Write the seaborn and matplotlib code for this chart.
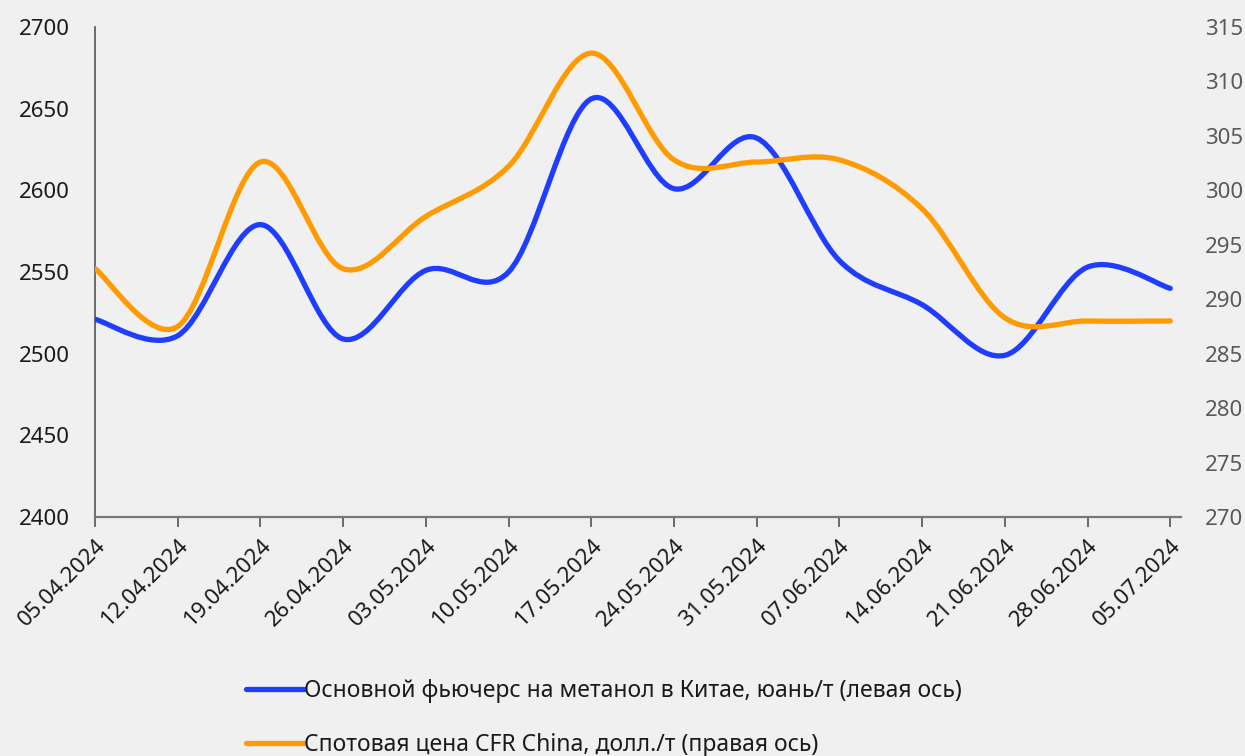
import numpy as np
import pandas as pd
import matplotlib
matplotlib.use('Agg')
import matplotlib.pyplot as plt
import seaborn as sns
from matplotlib.path import Path
from matplotlib.patches import PathPatch
from matplotlib.lines import Line2D

# data
dates = ['05.04.2024', '12.04.2024', '19.04.2024', '26.04.2024', '03.05.2024',
         '10.05.2024', '17.05.2024', '24.05.2024', '31.05.2024', '07.06.2024',
         '14.06.2024', '21.06.2024', '28.06.2024', '05.07.2024']
futures_cny = [2521, 2511, 2579, 2509, 2551, 2550, 2656, 2601, 2632, 2557,
               2530, 2499, 2553, 2540]
spot_usd = [292.8, 287.5, 302.6, 292.8, 297.6, 302.2, 312.6, 302.8, 302.6, 302.8,
            298.3, 288.3, 288.0, 288.0]

label_fut = 'Основной фьючерс на метанол в Китае, юань/т (левая ось)'
label_spot = 'Спотовая цена CFR China, долл./т (правая ось)'

blue = '#1f3dff'
orange = '#ff9a00'
bg = '#f0f0f0'

df = pd.DataFrame({'date': dates, 'futures': futures_cny, 'spot': spot_usd})
df['pos'] = np.arange(len(df))


def smooth_path(x, y):
    # smoothed line like a spreadsheet chart: cubic bezier through each point
    x = np.asarray(x, float)
    y = np.asarray(y, float)
    px = np.concatenate([[x[0]], x, [x[-1]]])
    py = np.concatenate([[y[0]], y, [y[-1]]])
    verts = [(x[0], y[0])]
    codes = [Path.MOVETO]
    for i in range(1, len(px) - 2):
        c1 = (px[i] + (px[i + 1] - px[i - 1]) / 6, py[i] + (py[i + 1] - py[i - 1]) / 6)
        c2 = (px[i + 1] - (px[i + 2] - px[i]) / 6, py[i + 1] - (py[i + 2] - py[i]) / 6)
        verts += [c1, c2, (px[i + 1], py[i + 1])]
        codes += [Path.CURVE4] * 3
    return Path(verts, codes)


sns.set_theme(style='white', rc={'axes.facecolor': bg, 'figure.facecolor': bg})
plt.rcParams['font.family'] = ['Noto Sans', 'DejaVu Sans']

fig, ax = plt.subplots(figsize=(12.45, 7.56), dpi=100)
fig.subplots_adjust(left=0.0763, right=0.9486, top=0.9643, bottom=0.3161)
ax2 = ax.twinx()

ax.add_patch(PathPatch(smooth_path(df['pos'], df['futures']), fill=False,
                       edgecolor=blue, lw=3.8, capstyle='round', joinstyle='round', zorder=3))
ax2.add_patch(PathPatch(smooth_path(df['pos'], df['spot']), fill=False,
                        edgecolor=orange, lw=3.8, capstyle='round', joinstyle='round', zorder=3))

ax.set_xlim(0, 13.13)
ax.set_ylim(2400, 2700)
ax2.set_ylim(270, 315)
ax.set_yticks(range(2400, 2701, 50))
ax2.set_yticks(range(270, 316, 5))
ax.set_xticks(df['pos'])
ax.set_xticklabels(df['date'], rotation=45, ha='right', va='top', rotation_mode='anchor')

for s in ['top', 'right']:
    ax.spines[s].set_visible(False)
for s in ax2.spines.values():
    s.set_visible(False)
ax.spines['left'].set_color('#555555')
ax.spines['bottom'].set_color('#777777')
ax.spines['left'].set_linewidth(1.2)
ax.spines['bottom'].set_linewidth(1.6)

ax.tick_params(axis='y', length=0, labelsize=16, labelcolor='#1a1a1a', pad=18)
ax.tick_params(axis='x', bottom=True, length=7, width=1.2, color='#555555',
               labelsize=16, labelcolor='#1a1a1a', pad=6)
ax2.tick_params(axis='y', length=0, labelsize=16, labelcolor='#595959', pad=17)
ax.set_xlabel('')
ax.set_ylabel('')

handles = [Line2D([], [], color=blue, lw=3.8, solid_capstyle='round'),
           Line2D([], [], color=orange, lw=3.8, solid_capstyle='round')]
fig.legend(handles, [label_fut, label_spot], loc='upper left',
           bbox_to_anchor=(0.19, 0.114), frameon=False, fontsize=16.5,
           handlelength=2.55, handletextpad=0.0, labelspacing=1.3,
           labelcolor='#1a1a1a', borderaxespad=0)

fig.savefig('out.png', dpi=100, facecolor=bg)
